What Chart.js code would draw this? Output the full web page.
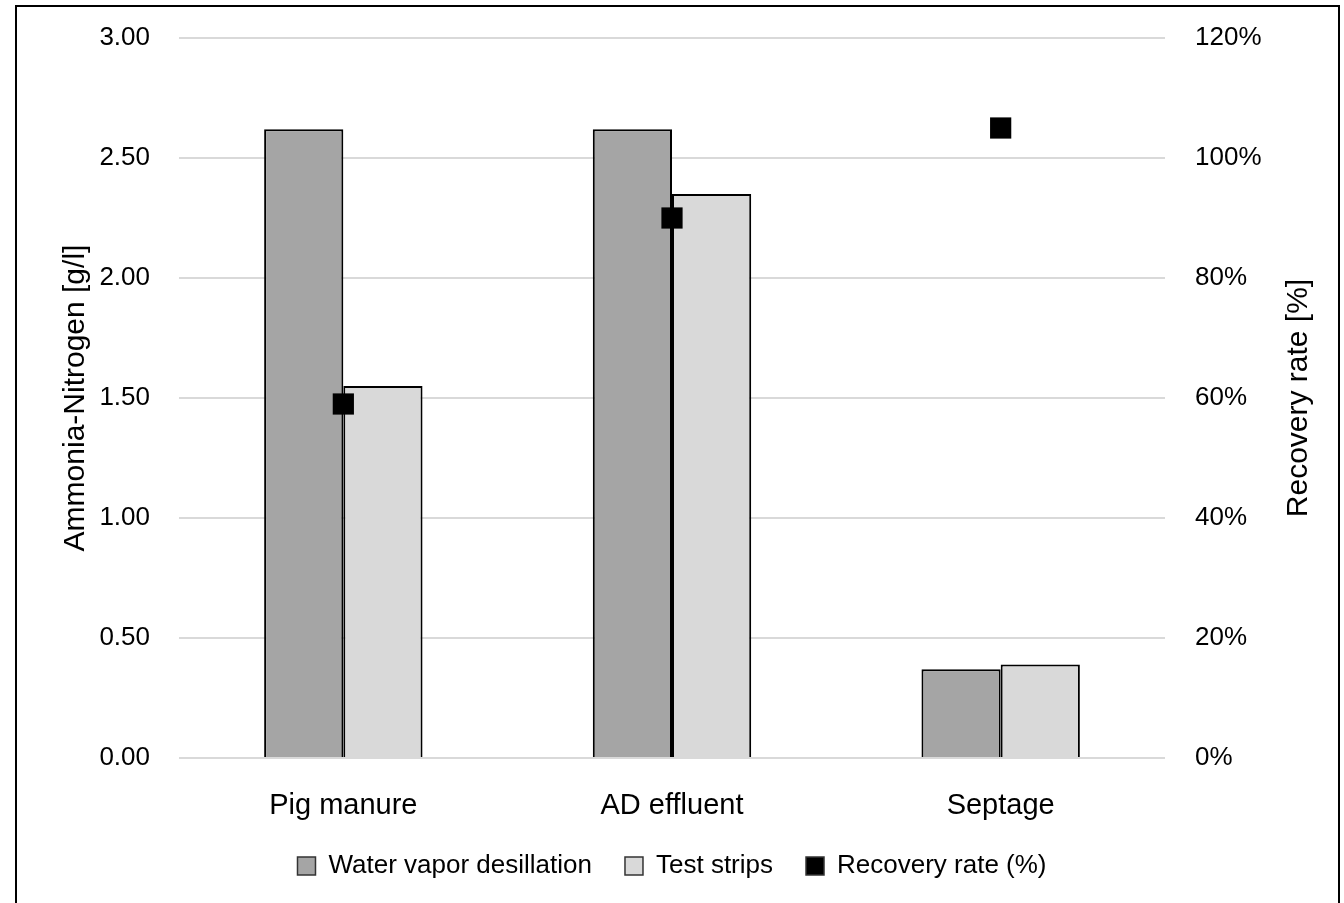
<!DOCTYPE html>
<html>
<head>
<meta charset="utf-8">
<script src="https://cdn.jsdelivr.net/npm/chart.js@4"></script>
<style>
  html, body { margin:0; padding:0; background:#fff; overflow:hidden; }
  #wrap { position:absolute; left:0; top:0; width:1344px; height:903px; }
  #frame { position:absolute; left:15px; top:5px; width:1325px; height:1000px; border:2px solid #000; box-sizing:border-box; pointer-events:none; }
</style>
</head>
<body>
<div id="wrap"><canvas id="c" width="1344" height="903"></canvas></div>
<div id="frame"></div>
<script>
const categories = ["Pig manure", "AD effluent", "Septage"];
const waterVapor = [2.62, 2.62, 0.37];
const testStrips = [1.55, 2.35, 0.39];
const recoveryRate = [59, 90, 105];
const seriesNames = ["Water vapor desillation", "Test strips", "Recovery rate (%)"];
const leftTitle = "Ammonia-Nitrogen [g/l]";
const rightTitle = "Recovery rate [%]";

const FONT = "'Liberation Sans', Arial, sans-serif";

const rightTitlePlugin = {
  id: 'rightTitle',
  afterDraw(chart) {
    const s = chart.scales.y2;
    const ctx = chart.ctx;
    ctx.save();
    ctx.font = "30px " + FONT;
    ctx.fillStyle = "#000";
    ctx.textAlign = "center";
    ctx.textBaseline = "middle";
    ctx.translate(1299, (s.top + s.bottom) / 2);
    ctx.rotate(-Math.PI / 2);
    ctx.fillText(rightTitle, 0, 0);
    ctx.restore();
  }
};

function fitY(s) {
  s.width = 179;
  s.paddingTop = 16;
  s.paddingBottom = 16;
}

new Chart(document.getElementById('c'), {
  type: 'bar',
  data: {
    labels: categories,
    datasets: [
      { label: seriesNames[0], data: waterVapor, backgroundColor: '#A5A5A5', borderColor: '#000', borderWidth: 2, yAxisID: 'y', order: 1, categoryPercentage: 0.482, barPercentage: 1 },
      { label: seriesNames[1], data: testStrips, backgroundColor: '#D9D9D9', borderColor: '#000', borderWidth: 2, yAxisID: 'y', order: 1, categoryPercentage: 0.482, barPercentage: 1 },
      { type: 'line', label: seriesNames[2], data: recoveryRate, yAxisID: 'y2', order: 0, showLine: false,
        pointStyle: 'rect', pointRadius: 15, pointHoverRadius: 15, pointBackgroundColor: '#000', pointBorderWidth: 0,
        backgroundColor: '#000', borderColor: '#000', borderWidth: 1 }
    ]
  },
  options: {
    responsive: false,
    animation: false,
    events: [],
    layout: { padding: { top: 38, bottom: 14, left: 0, right: 0 } },
    plugins: {
      tooltip: { enabled: false },
      legend: {
        position: 'bottom',
        labels: {
          font: { family: FONT, size: 26 },
          color: '#000',
          boxWidth: 18,
          boxHeight: 18,
          padding: 33,
          sort: (a, b) => a.datasetIndex - b.datasetIndex,
          generateLabels(chart) {
            const items = Chart.defaults.plugins.legend.labels.generateLabels(chart);
            items.forEach(it => { it.lineWidth = 1.5; it.strokeStyle = '#333'; });
            return items;
          }
        }
      }
    },
    scales: {
      x: {
        grid: { display: false, drawTicks: false },
        border: { display: false },
        ticks: { font: { family: FONT, size: 29 }, color: '#000', padding: 31 },
        afterFit(s) { s.height = 62; }
      },
      y: {
        position: 'left',
        min: 0, max: 3,
        ticks: { stepSize: 0.5, font: { family: FONT, size: 26 }, color: '#000', padding: 29,
                 callback: v => Number(v).toFixed(2) },
        grid: { color: '#D9D9D9', lineWidth: 2, drawTicks: false },
        border: { display: false },
        title: { display: true, text: leftTitle, font: { family: FONT, size: 30 }, color: '#000', padding: { top: 58, bottom: 0 } },
        afterFit: fitY
      },
      y2: {
        position: 'right',
        min: 0, max: 120,
        ticks: { stepSize: 20, font: { family: FONT, size: 26 }, color: '#000', padding: 30,
                 callback: v => v + '%' },
        grid: { display: false, drawTicks: false },
        border: { display: false },
        afterFit: fitY
      }
    }
  },
  plugins: [rightTitlePlugin]
});
</script>
</body>
</html>
